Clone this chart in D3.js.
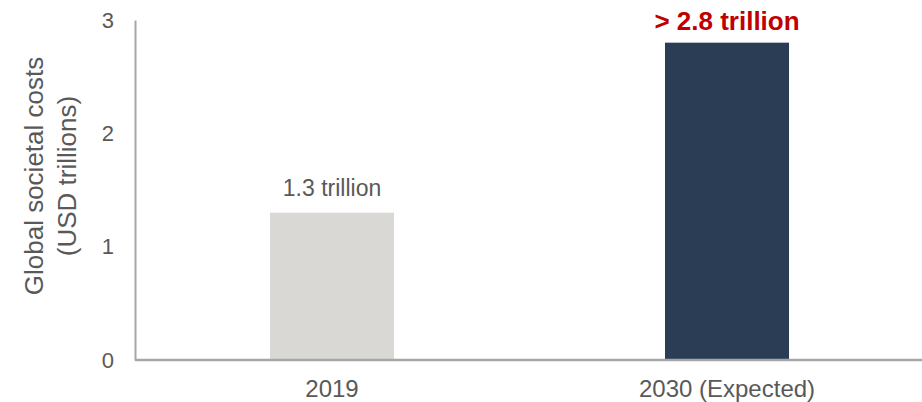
<!DOCTYPE html>
<html>
<head>
<meta charset="utf-8">
<script src="https://cdn.jsdelivr.net/npm/d3@7"></script>
<style>
  html, body { margin: 0; padding: 0; background: #fff; }
  svg { display: block; font-family: "Liberation Sans", Arial, sans-serif; }
</style>
</head>
<body>
<svg id="chart" width="922" height="402"></svg>
<script>
const categories = ["2019", "2030 (Expected)"];
const values = [1.3, 2.8];
const valueLabels = ["1.3 trillion", "> 2.8 trillion"];
const yTicks = [0, 1, 2, 3];
const yTitleLines = ["Global societal costs", "(USD trillions)"];

(function () {
const svg = d3.select("#chart");
const mLeft = 135, mRight = 922, mTop = 20, mBottom = 360;

const x = d3.scaleBand().domain(categories).range([134.5, 924.5])
  .paddingInner(0.686).paddingOuter(0.343);
const y = d3.scaleLinear().domain([0, 3]).range([mBottom, mTop]);

const barColors = ["#d9d8d5", "#2b3d55"];
const labelStyles = [
  { fill: "#595959", size: 23, weight: "normal" },
  { fill: "#c00000", size: 26, weight: "bold" }
];

// bars
svg.append("g").selectAll("rect").data(values).join("rect")
  .attr("x", (d, i) => x(categories[i]))
  .attr("y", d => y(d))
  .attr("width", x.bandwidth())
  .attr("height", d => y(0) - y(d))
  .attr("fill", (d, i) => barColors[i]);

// value labels
svg.append("g").selectAll("text").data(values).join("text")
  .attr("x", (d, i) => x(categories[i]) + x.bandwidth() / 2)
  .attr("y", (d, i) => y(d) - (i === 0 ? 17 : 13))
  .attr("text-anchor", "middle")
  .attr("fill", (d, i) => labelStyles[i].fill)
  .attr("font-size", (d, i) => labelStyles[i].size)
  .attr("font-weight", (d, i) => labelStyles[i].weight)
  .text((d, i) => valueLabels[i]);

// y axis
const yAxis = svg.append("g").attr("transform", `translate(${mLeft},0)`)
  .call(d3.axisLeft(y).tickValues(yTicks).tickSize(0).tickPadding(21).tickFormat(d3.format("d")));
yAxis.select(".domain").attr("stroke", "#a6a6a6").attr("stroke-width", 2);
yAxis.selectAll("text").attr("font-size", 22).attr("fill", "#595959")
  .attr("font-family", "Liberation Sans, Arial, sans-serif");

// x axis
const xAxis = svg.append("g").attr("transform", `translate(0,${mBottom})`)
  .call(d3.axisBottom(x).tickSize(0).tickPadding(20));
xAxis.select(".domain").attr("stroke", "#a6a6a6").attr("stroke-width", 2.5)
  .attr("d", `M${mLeft},0H${mRight}`);
xAxis.selectAll("text").attr("font-size", 24).attr("fill", "#595959")
  .attr("font-family", "Liberation Sans, Arial, sans-serif");

// y title
const yt = svg.append("text")
  .attr("transform", `translate(43,176) rotate(-90)`)
  .attr("text-anchor", "middle")
  .attr("fill", "#595959")
  .attr("font-size", 26);
yt.selectAll("tspan").data(yTitleLines).join("tspan")
  .attr("x", 0)
  .attr("dy", (d, i) => i === 0 ? 0 : 33)
  .text(d => d);
})();
</script>
</body>
</html>
